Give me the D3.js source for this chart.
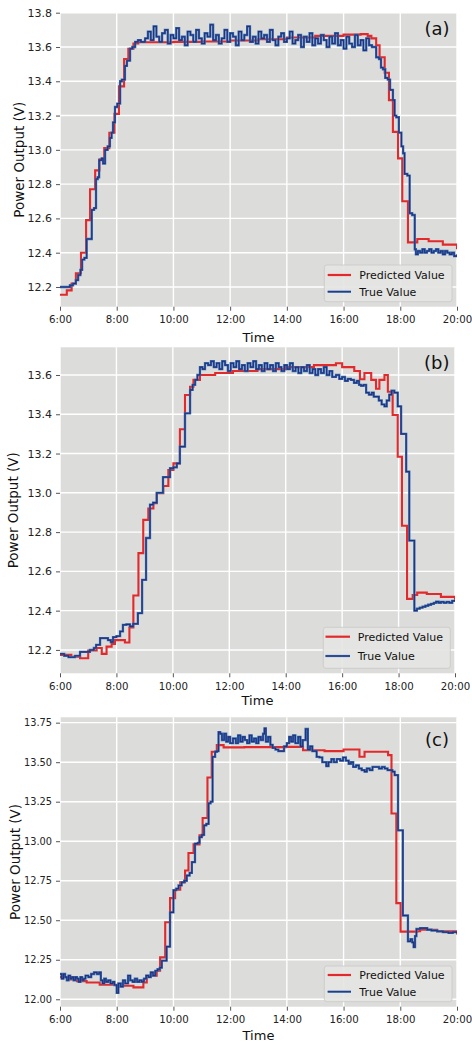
<!DOCTYPE html>
<html><head><meta charset="utf-8">
<script src="https://cdn.jsdelivr.net/npm/d3@7"></script>
<style>body{margin:0;background:#fff;} svg{display:block;font-family:"DejaVu Sans",sans-serif;}</style>
</head><body><svg id="chart" width="472" height="1043"></svg>
<script>
// ---------- shared axis data ----------
const xTickValues = [6, 8, 10, 12, 14, 16, 18, 20];
const xTickLabels = ["6:00", "8:00", "10:00", "12:00", "14:00", "16:00", "18:00", "20:00"];
const yTicksA = [12.2, 12.4, 12.6, 12.8, 13.0, 13.2, 13.4, 13.6, 13.8];
const yTicksB = [12.2, 12.4, 12.6, 12.8, 13.0, 13.2, 13.4, 13.6];
const yTicksC = [12.00, 12.25, 12.50, 12.75, 13.00, 13.25, 13.50, 13.75];
const seriesNames = ["Predicted Value", "True Value"];
const panelLabels = ["(a)", "(b)", "(c)"];

// ---------- panel (a) ----------
const predTimeA = [6.00,6.24,6.41,6.56,6.74,6.92,7.06,7.24,7.39,7.56,7.74,7.92,8.08,8.26,8.41,8.59,8.76,10.0,11.0,12.0,13.0,14.0,15.0,16.0,16.6,16.85,16.98,17.15,17.27,17.45,17.60,17.74,17.92,18.07,18.27,18.60,19.0,19.5,20.0];
const predA     = [12.155,12.18,12.22,12.28,12.40,12.59,12.77,12.88,12.945,13.01,13.10,13.21,13.37,13.53,13.59,13.62,13.628,13.63,13.632,13.638,13.645,13.655,13.665,13.672,13.675,13.665,13.65,13.61,13.54,13.45,13.29,13.105,12.95,12.70,12.46,12.48,12.467,12.447,12.42];
const trueTimeA = [6.00,6.20,6.35,6.46,6.56,6.64,6.72,6.78,6.86,6.94,7.06,7.12,7.20,7.27,7.33,7.38,7.47,7.52,7.59,7.68,7.76,7.82,7.87,7.94,8.02,8.12,8.18,8.29,8.36,8.47,8.55,8.65,8.75,8.85,
  9.0,9.1,9.2,9.3,9.4,9.5,9.6,9.7,9.8,9.9,10.0,10.1,10.2,10.3,10.4,10.5,10.6,10.7,10.8,10.9,11.0,11.1,11.2,11.3,11.4,11.5,11.6,11.7,11.8,11.9,12.0,12.1,12.2,12.3,12.4,12.5,12.6,12.7,12.8,12.9,13.0,13.1,13.2,13.3,13.4,13.5,13.6,13.7,13.8,13.9,14.0,14.1,14.2,14.3,14.4,14.5,14.6,14.7,14.8,14.9,15.0,15.1,15.2,15.3,15.4,15.5,15.6,15.7,15.8,15.9,16.0,16.1,16.2,16.3,16.4,16.5,16.6,16.7,16.8,16.9,17.0,
  17.08,17.15,17.25,17.32,17.39,17.47,17.56,17.64,17.74,17.80,17.86,17.95,18.04,18.10,18.15,18.25,18.33,18.42,18.51,18.55,18.62,18.70,18.78,18.86,18.94,19.02,19.10,19.18,19.26,19.34,19.42,19.50,19.58,19.66,19.74,19.82,19.90,20.00];
const trueA = [12.20,12.20,12.21,12.22,12.24,12.27,12.30,12.36,12.37,12.48,12.48,12.65,12.66,12.83,12.84,12.94,12.95,12.92,13.00,13.02,13.07,13.10,13.16,13.25,13.27,13.40,13.41,13.49,13.52,13.59,13.60,13.63,13.64,13.63,
  13.65,13.69,13.64,13.72,13.66,13.63,13.68,13.70,13.62,13.67,
  13.65,13.71,13.64,13.66,13.61,13.69,13.67,13.63,13.70,13.65,
  13.62,13.68,13.66,13.73,13.64,13.67,13.62,13.65,13.70,13.63,
  13.68,13.66,13.61,13.69,13.64,13.67,13.72,13.63,13.66,13.62,
  13.69,13.65,13.67,13.63,13.70,13.64,13.61,13.66,13.68,13.63,
  13.65,13.69,13.62,13.64,13.67,13.60,13.66,13.63,13.68,13.61,
  13.65,13.62,13.67,13.64,13.60,13.66,13.62,13.68,13.61,13.64,
  13.59,13.66,13.62,13.60,13.67,13.61,13.64,13.58,13.65,13.61,
  13.60,
  13.60,13.54,13.53,13.48,13.47,13.42,13.41,13.35,13.29,13.20,13.19,13.10,13.02,12.98,12.86,12.85,12.63,12.62,12.42,12.39,12.41,12.40,12.42,12.40,12.41,12.42,12.40,12.41,12.42,12.40,12.41,12.39,12.41,12.40,12.39,12.40,12.38,12.39];

// ---------- panel (b) ----------
const predTimeB = [6.00,6.40,6.71,7.00,7.30,7.48,7.65,7.83,7.95,8.30,8.46,8.60,8.78,8.95,9.13,9.31,9.43,9.66,9.84,10.02,10.25,10.43,10.61,10.73,10.96,11.5,12.13,13.0,14.0,15.0,15.78,16.0,16.43,16.63,16.79,17.03,17.2,17.32,17.5,17.62,17.79,17.97,18.12,18.30,18.50,18.66,19.0,19.5,20.0];
const predB     = [12.175,12.165,12.158,12.197,12.21,12.18,12.217,12.23,12.25,12.238,12.314,12.477,12.693,12.862,12.92,12.947,12.998,13.035,13.116,13.15,13.324,13.498,13.54,13.575,13.60,13.61,13.62,13.63,13.64,13.65,13.66,13.64,13.62,13.578,13.61,13.575,13.53,13.575,13.60,13.515,13.396,13.184,12.832,12.46,12.48,12.492,12.485,12.47,12.455];
const trueTimeB = [6.00,6.15,6.30,6.53,6.71,6.90,7.06,7.20,7.28,7.42,7.55,7.70,7.80,7.88,8.00,8.13,8.23,8.35,8.48,8.59,8.76,8.91,9.05,9.19,9.30,9.43,9.55,9.65,9.78,9.90,10.02,10.14,10.25,10.43,10.61,10.70,10.79,10.87,10.96,11.05,11.14,
  11.25,11.35,11.45,11.55,11.65,11.75,11.85,11.95,12.05,12.15,12.25,12.35,12.45,12.55,12.65,12.75,12.85,12.95,13.05,13.15,13.25,13.35,13.45,13.55,13.65,13.75,13.85,13.95,14.05,14.15,14.25,14.35,14.45,14.55,14.65,14.75,14.85,14.95,15.05,15.15,15.25,15.35,15.45,15.55,15.65,15.78,15.90,16.00,16.10,16.20,16.31,16.42,16.52,16.60,16.67,16.76,16.85,16.95,17.05,17.12,17.20,17.30,17.40,17.50,17.58,17.67,17.75,17.85,17.97,
  18.09,18.27,18.38,18.56,18.65,18.75,18.85,18.95,19.05,19.15,19.25,19.33,19.42,19.50,19.60,19.70,19.80,19.90,20.00];
const trueB = [12.18,12.17,12.163,12.17,12.19,12.19,12.20,12.21,12.226,12.26,12.26,12.25,12.24,12.265,12.27,12.294,12.328,12.33,12.32,12.333,12.387,12.557,12.77,12.94,12.95,13.00,13.00,13.08,13.08,13.125,13.13,13.15,13.235,13.405,13.524,13.55,13.575,13.60,13.64,13.63,13.66,
  13.65,13.67,13.64,13.66,13.63,13.67,13.65,13.62,13.66,13.64,13.67,13.63,13.65,13.62,13.66,13.64,13.67,13.63,13.65,13.62,13.66,13.63,13.65,13.62,13.66,13.64,13.62,13.65,13.63,13.66,13.62,13.64,13.61,13.64,13.62,13.65,13.61,13.63,13.60,13.63,13.61,13.64,13.60,13.62,13.59,13.60,13.58,13.59,13.57,13.58,13.575,13.56,13.57,13.55,13.545,13.55,13.51,13.50,13.51,13.49,13.49,13.47,13.45,13.44,13.47,13.50,13.52,13.51,13.44,
  13.30,13.108,12.757,12.40,12.41,12.415,12.42,12.425,12.43,12.435,12.44,12.446,12.44,12.445,12.44,12.445,12.44,12.45,12.455];

// ---------- panel (c) ----------
const predTimeC = [6.00,6.30,6.60,6.94,7.40,8.00,8.59,8.94,9.06,9.41,9.53,9.71,9.88,10.06,10.24,10.41,10.53,10.71,10.92,11.03,11.20,11.35,11.53,11.77,12.5,13.98,14.57,15.33,16.0,16.56,16.74,17.57,17.69,17.86,18.01,18.6,18.7,19.3,20.0];
const predC     = [12.14,12.125,12.115,12.106,12.092,12.086,12.075,12.106,12.149,12.18,12.265,12.487,12.64,12.693,12.74,12.815,12.925,12.98,13.037,13.147,13.403,13.566,13.608,13.594,13.595,13.597,13.576,13.57,13.58,13.534,13.566,13.545,13.175,12.608,12.428,12.43,12.44,12.43,12.41];
const trueTimeC = [6.00,6.06,6.12,6.18,6.24,6.30,6.36,6.42,6.48,6.54,6.60,6.66,6.72,6.78,6.84,6.90,7.00,7.10,7.20,7.30,7.38,7.44,7.50,7.56,7.62,7.70,7.78,7.86,7.92,8.00,8.06,8.14,8.22,8.30,8.40,8.48,8.56,8.64,8.72,8.80,8.88,8.96,9.04,9.12,9.20,9.28,9.36,9.44,9.52,
  9.59,9.76,9.88,10.00,10.10,10.18,10.29,10.38,10.47,10.57,10.65,10.76,10.86,10.92,11.00,11.08,11.16,11.24,11.31,11.38,11.47,11.53,11.59,11.65,11.71,11.79,11.86,11.93,12.00,
  12.10,12.20,12.28,12.36,12.44,12.52,12.60,12.68,12.76,12.84,12.92,13.00,13.08,13.16,13.21,13.26,13.34,13.42,13.50,13.60,13.70,13.80,13.90,14.00,14.08,14.15,14.22,14.30,14.40,14.48,14.56,14.66,14.74,14.82,14.90,15.05,15.15,15.25,15.39,15.47,15.57,15.66,15.76,15.88,15.98,16.08,16.18,16.26,16.34,16.44,16.54,16.64,16.74,16.82,16.92,17.02,17.15,17.25,17.35,17.45,17.55,17.62,17.72,17.80,
  17.92,18.09,18.27,18.36,18.42,18.47,18.52,18.57,18.70,18.80,18.95,19.10,19.30,19.50,19.70,19.85,20.00];
const trueC = [12.16,12.13,12.16,12.14,12.12,12.15,12.13,12.14,12.12,12.14,12.13,12.11,12.14,12.12,12.13,12.15,12.14,12.16,12.17,12.16,12.17,12.12,12.10,12.13,12.11,12.12,12.10,12.11,12.09,12.04,12.10,12.08,12.12,12.10,12.15,12.12,12.11,12.13,12.11,12.12,12.11,12.13,12.15,12.14,12.17,12.15,12.18,12.19,12.20,
  12.244,12.333,12.55,12.69,12.70,12.72,12.74,12.75,12.783,12.80,12.868,12.985,12.99,13.026,13.04,13.10,13.11,13.24,13.25,13.534,13.566,13.57,13.69,13.68,13.64,13.68,13.63,13.66,13.62,
  13.65,13.62,13.67,13.63,13.66,13.64,13.62,13.67,13.63,13.65,13.62,13.66,13.64,13.68,13.714,13.63,13.66,13.61,13.59,13.58,13.57,13.57,13.60,13.62,13.66,13.63,13.67,13.62,13.66,13.60,13.64,13.71,13.58,13.60,13.57,13.534,13.53,13.50,13.475,13.50,13.52,13.50,13.52,13.51,13.53,13.51,13.49,13.50,13.47,13.48,13.46,13.45,13.44,13.46,13.45,13.47,13.47,13.46,13.47,13.46,13.45,13.45,13.44,13.418,
  13.069,12.53,12.366,12.38,12.36,12.33,12.40,12.445,12.45,12.45,12.44,12.435,12.43,12.425,12.42,12.425,12.42];

// ---------- layout ----------
const panels = [
  { predT: predTimeA, pred: predA, trueT: trueTimeA, tru: trueA, yTicks: yTicksA, fmt: ".1f", yFont: 11,
    left: 60, right: 457, top: 12.7, bottom: 306.7, yDomain: [12.085, 13.8],
    ylabX: 24, labelX: 449.5, labelY: 34.5, timeY: 342,
    leg: { x: 324.3, y: 265, w: 127.7, h: 36.7, r: 275, b: 291.7, lx0: 327.7, lx1: 351, tx: 359.3 } },
  { predT: predTimeB, pred: predB, trueT: trueTimeB, tru: trueB, yTicks: yTicksB, fmt: ".1f", yFont: 11,
    left: 60, right: 455, top: 347.3, bottom: 673.3, yDomain: [12.081, 13.741],
    ylabX: 17.5, labelX: 449.5, labelY: 368.5, timeY: 705,
    leg: { x: 323.3, y: 627.3, w: 127, h: 41, r: 636.7, b: 656, lx0: 325.5, lx1: 350, tx: 357.7 } },
  { predT: predTimeC, pred: predC, trueT: trueTimeC, tru: trueC, yTicks: yTicksC, fmt: ".2f", yFont: 9.8,
    left: 60, right: 457, top: 717.3, bottom: 1006.7, yDomain: [11.953, 13.784],
    ylabX: 20, labelX: 449, labelY: 746, timeY: 1040,
    leg: { x: 324.3, y: 966, w: 127.7, h: 35.7, r: 975, b: 991.7, lx0: 327.7, lx1: 351, tx: 359.3 } }
];

const RED = "#e2292b", BLUE_OUT = "#2f6fb4", BLUE_IN = "#2a2d78", BG = "#dcdcda";
const svg = d3.select("#chart");

panels.forEach((p, i) => {
  const x = d3.scaleLinear().domain([6, 20]).range([p.left, p.right]);
  const y = d3.scaleLinear().domain(p.yDomain).range([p.bottom, p.top]);
  const g = svg.append("g");

  g.append("rect").attr("x", p.left).attr("y", p.top)
    .attr("width", p.right - p.left).attr("height", p.bottom - p.top).attr("fill", BG);

  // grid
  g.selectAll(".gx").data(xTickValues).join("line")
    .attr("x1", d => x(d)).attr("x2", d => x(d)).attr("y1", p.top).attr("y2", p.bottom)
    .attr("stroke", "#fff").attr("stroke-width", 1.4);
  g.selectAll(".gy").data(p.yTicks).join("line")
    .attr("x1", p.left).attr("x2", p.right).attr("y1", d => y(d)).attr("y2", d => y(d))
    .attr("stroke", "#fff").attr("stroke-width", 1.4);

  // axes
  const xa = g.append("g").attr("transform", `translate(0,${p.bottom})`)
    .call(d3.axisBottom(x).tickValues(xTickValues).tickFormat((d, k) => xTickLabels[k]).tickSize(4).tickPadding(5));
  xa.select(".domain").remove();
  xa.selectAll("line").attr("stroke", "#555");
  xa.selectAll("text").attr("font-size", 10.2).attr("fill", "#222").attr("font-family", "DejaVu Sans");

  const ya = g.append("g").attr("transform", `translate(${p.left},0)`)
    .call(d3.axisLeft(y).tickValues(p.yTicks).tickFormat(d3.format(p.fmt)).tickSize(4).tickPadding(4));
  ya.select(".domain").remove();
  ya.selectAll("line").attr("stroke", "#555");
  ya.selectAll("text").attr("font-size", p.yFont).attr("fill", "#222").attr("font-family", "DejaVu Sans");

  // lines
  const clipId = "clip" + i;
  svg.append("clipPath").attr("id", clipId).append("rect")
    .attr("x", p.left).attr("y", p.top - 3).attr("width", p.right - p.left).attr("height", p.bottom - p.top + 6);
  const line = d3.line().curve(d3.curveStepAfter).x(d => x(d[0])).y(d => y(d[1]));
  const predData = p.predT.map((t, k) => [t, p.pred[k]]);
  const trueData = p.trueT.map((t, k) => [t, p.tru[k]]);
  const lg = g.append("g").attr("clip-path", `url(#${clipId})`);
  lg.append("path").datum(predData).attr("d", line).attr("fill", "none")
    .attr("stroke", RED).attr("stroke-width", 2.1).attr("stroke-linejoin", "miter");
  lg.append("path").datum(trueData).attr("d", line).attr("fill", "none")
    .attr("stroke", BLUE_OUT).attr("stroke-width", 2.3);
  lg.append("path").datum(trueData).attr("d", line).attr("fill", "none")
    .attr("stroke", BLUE_IN).attr("stroke-width", 1.1);

  // panel label
  g.append("text").attr("x", p.labelX).attr("y", p.labelY).attr("text-anchor", "end")
    .attr("font-size", 18).attr("fill", "#111").text(panelLabels[i]);

  // axis titles
  g.append("text").attr("x", (p.left + p.right) / 2).attr("y", p.timeY).attr("text-anchor", "middle")
    .attr("font-size", 13).attr("fill", "#111").text("Time");
  g.append("text").attr("transform", `translate(${p.ylabX},${(p.top + p.bottom) / 2}) rotate(-90)`)
    .attr("text-anchor", "middle").attr("font-size", 13.5).attr("fill", "#111").text("Power Output (V)");

  // legend
  const L = p.leg;
  const lgd = g.append("g");
  lgd.append("rect").attr("x", L.x).attr("y", L.y).attr("width", L.w).attr("height", L.h)
    .attr("rx", 2.5).attr("fill", "#e4e4e2").attr("fill-opacity", 0.9).attr("stroke", "#c8c8c8").attr("stroke-width", 0.8);
  const entries = [{ yy: L.r, c: RED, name: seriesNames[0] }, { yy: L.b, c: BLUE_OUT, name: seriesNames[1] }];
  entries.forEach((e, k) => {
    lgd.append("line").attr("x1", L.lx0).attr("x2", L.lx1).attr("y1", e.yy).attr("y2", e.yy)
      .attr("stroke", e.c).attr("stroke-width", 2.2);
    if (k === 1) lgd.append("line").attr("x1", L.lx0).attr("x2", L.lx1).attr("y1", e.yy).attr("y2", e.yy)
      .attr("stroke", BLUE_IN).attr("stroke-width", 1.0);
    lgd.append("text").attr("x", L.tx).attr("y", e.yy + 4).attr("font-size", 11).attr("fill", "#111").text(e.name);
  });
});
</script>
</body></html>
